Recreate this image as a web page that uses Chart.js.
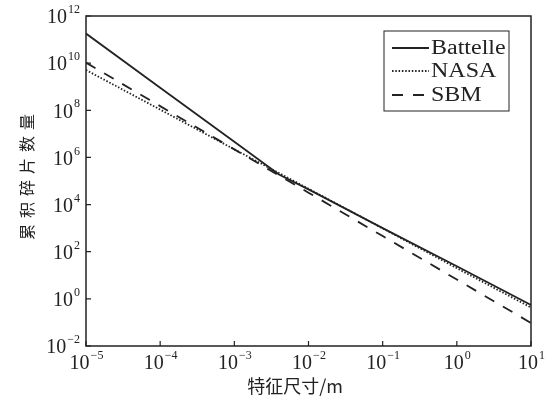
<!DOCTYPE html>
<html>
<head>
<meta charset="utf-8">
<script src="https://cdn.jsdelivr.net/npm/chart.js@4"></script>
<style>
  html, body { margin: 0; padding: 0; background: #fff; }
  #wrap { width: 552px; height: 398px; }
</style>
</head>
<body>
<div id="wrap"><canvas id="c" width="552" height="398"></canvas></div>
<script>
// values
const battelleX = [1e-5, 1e-4, 1e-3, 4e-3, 1e-2, 1e-1, 1, 10];
const battelleY = [1.8e11, 9.1e8, 4.6e6, 1.9e5, 4.4e4, 1.0e3, 24, 0.55];
const nasaX = [1e-5, 1e-4, 1e-3, 1e-2, 1e-1, 1, 10];
const nasaY = [5.1e9, 1.07e8, 2.2e6, 4.7e4, 980, 20, 0.43];
const sbmX = [1e-5, 1e-4, 1e-3, 1e-2, 1e-1, 1, 10];
const sbmY = [1.05e10, 1.5e8, 2.2e6, 3.2e4, 460, 6.6, 0.095];

const xExponents = [-5, -4, -3, -2, -1, 0, 1];
const yExponents = [-2, 0, 2, 4, 6, 8, 10, 12];

const ink = '#222';
const serif = '"Liberation Serif", "Times New Roman", serif';

function pts(xs, ys) {
  return xs.map((x, i) => ({ x: x, y: ys[i] }));
}

const toMinus = s => String(s).replace('-', '\u2212');

// draws "10" with a raised exponent, anchored by align
function drawPower(ctx, exp, x, y, align) {
  ctx.font = '20px ' + serif;
  const base = '10';
  const wb = ctx.measureText(base).width;
  ctx.font = '12px ' + serif;
  const e = toMinus(exp);
  const we = ctx.measureText(e).width;
  let left;
  if (align === 'right') left = x - wb - we;
  else left = x - (wb + we) / 2;
  ctx.textBaseline = 'middle';
  ctx.textAlign = 'left';
  ctx.font = '20px ' + serif;
  ctx.fillText(base, left, y);
  ctx.font = '12px ' + serif;
  ctx.fillText(e, left + wb + 1, y - 8);
}

const framePlugin = {
  id: 'frame',
  afterDraw(chart) {
    const ctx = chart.ctx;
    const a = chart.chartArea;
    const xs = chart.scales.x;
    const ys = chart.scales.y;
    ctx.save();
    ctx.strokeStyle = ink;
    ctx.fillStyle = ink;
    ctx.lineWidth = 1.5;
    ctx.strokeRect(a.left, a.top, a.right - a.left, a.bottom - a.top);

    // inward ticks on left and bottom
    ctx.lineWidth = 1.2;
    ctx.beginPath();
    xExponents.forEach(p => {
      const px = xs.getPixelForValue(Math.pow(10, p));
      ctx.moveTo(px, a.bottom);
      ctx.lineTo(px, a.bottom - 5);
    });
    yExponents.forEach(p => {
      const py = ys.getPixelForValue(Math.pow(10, p));
      ctx.moveTo(a.left, py);
      ctx.lineTo(a.left + 5, py);
    });
    ctx.stroke();

    xExponents.forEach(p => {
      const px = xs.getPixelForValue(Math.pow(10, p));
      drawPower(ctx, p, px, a.bottom + 18, 'center');
    });
    yExponents.forEach(p => {
      const py = ys.getPixelForValue(Math.pow(10, p));
      drawPower(ctx, p, a.left - 7, py + 2, 'right');
    });

    // axis titles
    ctx.font = '18px "Noto Sans CJK SC", sans-serif';
    ctx.textAlign = 'center';
    ctx.textBaseline = 'middle';
    ctx.fillText('特征尺寸/m', 295, 386);

    ctx.save();
    ctx.translate(27, 177);
    ctx.rotate(-Math.PI / 2);
    ctx.font = '16px "Noto Sans CJK SC", sans-serif';
    ctx.letterSpacing = '6px';
    ctx.fillText('累积碎片数量', 3, 0);
    ctx.restore();

    // legend
    const lx = 384, ly = 31, lw = 125, lh = 80;
    ctx.fillStyle = '#fff';
    ctx.fillRect(lx, ly, lw, lh);
    ctx.strokeStyle = ink;
    ctx.lineWidth = 1;
    ctx.strokeRect(lx, ly, lw, lh);
    const rows = [48, 71, 95];
    chart.data.datasets.forEach((ds, i) => {
      const y = rows[i];
      ctx.beginPath();
      ctx.setLineDash(ds.borderDash || []);
      ctx.lineWidth = ds.borderWidth;
      ctx.moveTo(392, y);
      ctx.lineTo(429, y);
      ctx.stroke();
      ctx.setLineDash([]);
      ctx.save();
      ctx.fillStyle = ink;
      ctx.font = '20px ' + serif;
      ctx.textAlign = 'left';
      ctx.textBaseline = 'middle';
      ctx.translate(431, y + 1);
      ctx.scale(1.2, 1);
      ctx.fillText(ds.label, 0, 0);
      ctx.restore();
    });
    ctx.restore();
  }
};

new Chart(document.getElementById('c'), {
  type: 'line',
  data: {
    datasets: [
      { label: 'Battelle', data: pts(battelleX, battelleY), borderColor: ink, borderWidth: 1.8, borderDash: [] },
      { label: 'NASA', data: pts(nasaX, nasaY), borderColor: ink, borderWidth: 1.8, borderDash: [1.5, 1.8] },
      { label: 'SBM', data: pts(sbmX, sbmY), borderColor: ink, borderWidth: 1.8, borderDash: [11, 10] }
    ]
  },
  options: {
    responsive: false,
    animation: false,
    parsing: true,
    elements: { point: { radius: 0 }, line: { tension: 0 } },
    layout: { padding: { left: 78, right: 21, top: 16, bottom: 44 } },
    plugins: { legend: { display: false }, tooltip: { enabled: false } },
    scales: {
      x: {
        type: 'logarithmic', min: 1e-5, max: 10,
        grid: { display: false }, border: { display: false },
        ticks: { display: false },
        afterBuildTicks: s => { s.ticks = xExponents.map(p => ({ value: Math.pow(10, p) })); }
      },
      y: {
        type: 'logarithmic', min: 1e-2, max: 1e12,
        grid: { display: false }, border: { display: false },
        ticks: { display: false },
        afterBuildTicks: s => { s.ticks = yExponents.map(p => ({ value: Math.pow(10, p) })); }
      }
    }
  },
  plugins: [framePlugin]
});
</script>
</body>
</html>
